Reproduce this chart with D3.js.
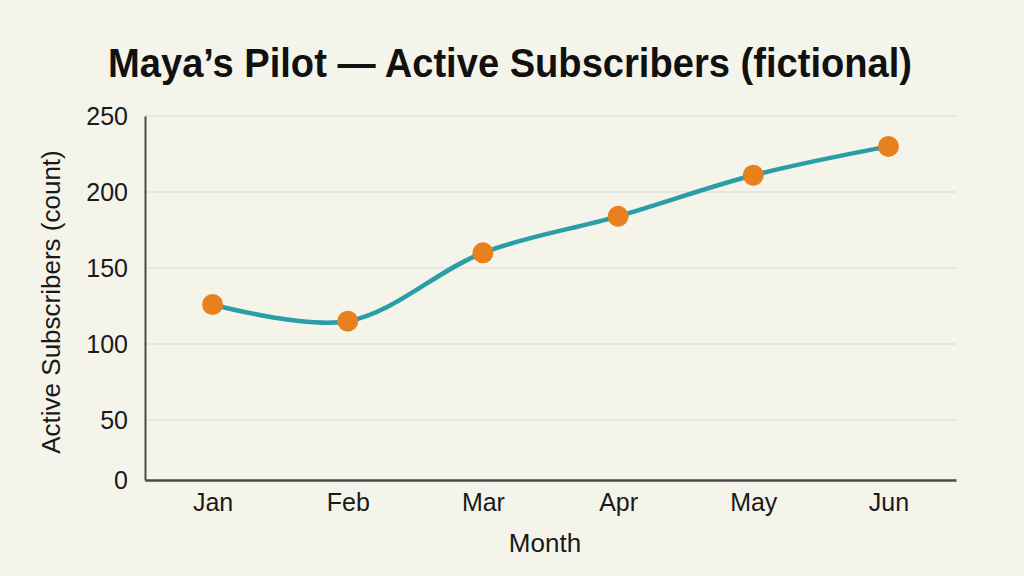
<!DOCTYPE html>
<html><head><meta charset="utf-8">
<script src="https://cdn.jsdelivr.net/npm/d3@7"></script>
<style>
html,body{margin:0;padding:0;background:#f5f4ea;}
svg{display:block;}
</style></head>
<body>
<svg id="c" width="1024" height="576"></svg>
<script>
const months = ["Jan","Feb","Mar","Apr","May","Jun"];
const subscribers = [126, 115, 160, 184, 211, 230];
const yTicks = [0, 50, 100, 150, 200, 250];
const titleText = "Maya\u2019s Pilot \u2014 Active Subscribers (fictional)";
const xTitle = "Month";
const yTitle = "Active Subscribers (count)";

(function(){
const svg = d3.select("#c");
const mLeft = 145, mRight = 956, mTop = 116, mBottom = 480;
const font = "'Liberation Sans', Arial, sans-serif";
const fs = 25;

svg.append("rect").attr("width",1024).attr("height",576).attr("fill","#f5f4ea");

const x = d3.scalePoint().domain(months).range([mLeft, mRight]).padding(0.5);
const y = d3.scaleLinear().domain([0, 50, 250]).range([mBottom, 420, mTop]);

svg.append("g").selectAll("line").data(yTicks.filter(d => d > 0)).join("line")
  .attr("x1", mLeft).attr("x2", mRight)
  .attr("y1", d => y(d)).attr("y2", d => y(d))
  .attr("stroke", "#d9d8cf").attr("stroke-width", 1.2);

const yAxis = d3.axisLeft(y).tickValues(yTicks).tickSize(0).tickPadding(17);
const gy = svg.append("g").attr("transform", `translate(${mLeft},0)`).call(yAxis);
gy.select(".domain").attr("stroke", "#4a4a4a").attr("stroke-width", 2);
gy.selectAll("text").attr("font-family", font).attr("font-size", fs).attr("fill", "#1a1a1a");

const xAxis = d3.axisBottom(x).tickSize(0).tickPadding(13);
const gx = svg.append("g").attr("transform", `translate(0,${mBottom})`).call(xAxis);
gx.select(".domain").attr("stroke", "#4a4a4a").attr("stroke-width", 2.5);
gx.selectAll("text").attr("font-family", font).attr("font-size", fs).attr("fill", "#1a1a1a");

const line = d3.line().x((d,i) => x(months[i])).y(d => y(d)).curve(d3.curveCatmullRom.alpha(0.5));
svg.append("path").datum(subscribers).attr("d", line)
  .attr("fill","none").attr("stroke","#2a9ea6").attr("stroke-width",4.5).attr("stroke-linecap","round");

svg.append("g").selectAll("circle").data(subscribers).join("circle")
  .attr("cx", (d,i) => x(months[i])).attr("cy", d => y(d)).attr("r", 10.5)
  .attr("fill", "#e8801f");

svg.append("text").attr("x", 510).attr("y", 77).attr("text-anchor","middle")
  .attr("font-family", font).attr("font-weight","bold").attr("font-size", 41)
  .attr("textLength", 804).attr("lengthAdjust", "spacingAndGlyphs")
  .attr("fill","#111").text(titleText);
svg.append("text").attr("x", 545).attr("y", 552).attr("text-anchor","middle")
  .attr("font-family", font).attr("font-size", 26).attr("fill","#1a1a1a").text(xTitle);
svg.append("text").attr("transform","translate(60,302) rotate(-90)").attr("text-anchor","middle")
  .attr("font-family", font).attr("font-size", 26).attr("fill","#1a1a1a").text(yTitle);
})();
</script>
</body></html>
